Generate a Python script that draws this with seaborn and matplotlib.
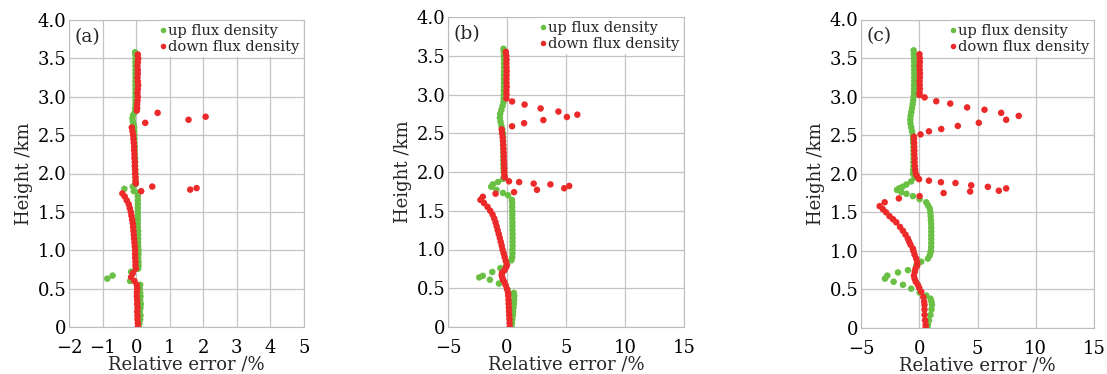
import matplotlib
matplotlib.use("Agg")
import matplotlib.pyplot as plt
import seaborn as sns
import pandas as pd

# ---------------- data ----------------
series_names = ["up flux density", "down flux density"]
panel_tags = ["(a)", "(b)", "(c)"]
y_ticks = [0, 0.5, 1.0, 1.5, 2.0, 2.5, 3.0, 3.5, 4.0]
y_tick_labels = ["0", "0.5", "1.0", "1.5", "2.0", "2.5", "3.0", "3.5", "4.0"]
x_ticks_a = [-2, -1, 0, 1, 2, 3, 4, 5]
x_ticks_bc = [-5, 0, 5, 10, 15]

# panel (a) up
a_up_h = [0.00, 0.05, 0.10, 0.15, 0.20, 0.25, 0.30, 0.35, 0.40, 0.45, 0.50, 0.55,
          0.60, 0.63, 0.67, 0.72,
          0.76, 0.80, 0.85, 0.90, 0.95, 1.00, 1.05, 1.10, 1.15, 1.20, 1.25, 1.30, 1.35, 1.40,
          1.45, 1.50, 1.55, 1.60, 1.65, 1.70, 1.75,
          1.77, 1.80, 1.83,
          1.86, 1.90, 1.95, 2.00, 2.05, 2.10, 2.15, 2.20, 2.25, 2.30, 2.35, 2.40, 2.45, 2.50,
          2.55, 2.60,
          2.64, 2.68, 2.72, 2.76,
          2.80, 2.85, 2.90, 2.95, 3.00, 3.05, 3.10, 3.15, 3.20, 3.25, 3.30, 3.35, 3.40, 3.45,
          3.50, 3.55, 3.58]
a_up_x = [0.08, 0.10, 0.12, 0.13, 0.11, 0.13, 0.14, 0.12, 0.13, 0.12, 0.11, 0.12,
          -0.18, -0.86, -0.70, -0.15,
          0.06, 0.07, 0.07, 0.06, 0.07, 0.07, 0.06, 0.06, 0.06, 0.06, 0.06, 0.05, 0.05, 0.05,
          0.05, 0.05, 0.05, 0.05, 0.05, 0.05, 0.05,
          -0.07, -0.35, -0.10,
          -0.02, -0.01, -0.02, -0.02, -0.03, -0.03, -0.03, -0.03, -0.04, -0.04, -0.04, -0.05,
          -0.05, -0.05, -0.06, -0.06,
          -0.08, -0.10, -0.11, -0.09,
          -0.04, -0.03, -0.02, -0.02, -0.02, -0.02, -0.02, -0.02, -0.02, -0.02, -0.02, -0.02,
          -0.02, -0.02, -0.02, -0.02, -0.03]

# panel (a) down
a_dn_h = [0.00, 0.05, 0.10, 0.15, 0.20, 0.25, 0.30, 0.35, 0.40, 0.45, 0.50, 0.55, 0.60,
          0.65, 0.70, 0.76,
          0.80, 0.85, 0.90, 0.95, 1.00, 1.05, 1.10, 1.15, 1.20, 1.25, 1.30, 1.35, 1.40, 1.45,
          1.50, 1.55, 1.60, 1.65, 1.70,
          1.74,
          1.77, 1.79, 1.81, 1.83,
          1.87, 1.90, 1.95, 2.00, 2.05, 2.10, 2.15, 2.20, 2.25, 2.30, 2.35, 2.40, 2.45, 2.50,
          2.55, 2.60,
          2.66, 2.70, 2.74, 2.79,
          2.82, 2.85, 2.90, 2.95, 3.00, 3.05, 3.10, 3.15, 3.20, 3.25, 3.30, 3.35, 3.40, 3.45,
          3.50, 3.55]
a_dn_x = [0.05, 0.05, 0.04, 0.04, 0.03, 0.04, 0.03, 0.03, 0.02, 0.02, 0.03, 0.02, -0.05,
          -0.15, -0.10, -0.01,
          -0.02, -0.02, -0.03, -0.03, -0.03, -0.04, -0.05, -0.06, -0.07, -0.08, -0.09, -0.10,
          -0.12, -0.14, -0.16, -0.19, -0.22, -0.28, -0.34,
          -0.41,
          0.15, 1.61, 1.80, 0.48,
          -0.01, -0.02, -0.02, -0.03, -0.03, -0.04, -0.04, -0.05, -0.05, -0.06, -0.06, -0.07,
          -0.08, -0.09, -0.11, -0.13,
          0.27, 1.56, 2.07, 0.64,
          0.02, 0.03, 0.03, 0.04, 0.05, 0.04, 0.05, 0.06, 0.05, 0.04, 0.05, 0.05, 0.04, 0.05,
          0.06, 0.05]

# panel (b) up
b_up_h = [0.00, 0.05, 0.10, 0.15, 0.20, 0.25, 0.30, 0.35, 0.40, 0.44,
          0.48, 0.56, 0.61, 0.64, 0.66, 0.71, 0.76,
          0.80, 0.86, 0.90, 0.95, 1.00, 1.05, 1.10, 1.15, 1.20, 1.25, 1.30, 1.35, 1.40, 1.45,
          1.50, 1.55, 1.60, 1.64,
          1.70, 1.73, 1.77, 1.81, 1.84, 1.87, 1.91,
          1.95, 2.00, 2.05, 2.10, 2.15, 2.20, 2.25, 2.30, 2.35, 2.40, 2.45, 2.50,
          2.55, 2.60, 2.65, 2.70, 2.75, 2.80, 2.85, 2.90,
          2.95, 3.00, 3.05, 3.10, 3.15, 3.20, 3.25, 3.30, 3.35, 3.40, 3.45, 3.50, 3.55, 3.59]
b_up_x = [0.40, 0.42, 0.45, 0.50, 0.52, 0.55, 0.58, 0.60, 0.62, 0.58,
          0.05, -0.68, -1.45, -2.35, -2.05, -1.25, -0.56,
          -0.05, 0.37, 0.44, 0.46, 0.46, 0.47, 0.47, 0.47, 0.47, 0.46, 0.46, 0.46, 0.45, 0.45,
          0.45, 0.44, 0.44, 0.42,
          0.09, -0.34, -0.90, -1.34, -1.20, -0.77, -0.34,
          -0.22, -0.28, -0.30, -0.30, -0.31, -0.31, -0.32, -0.32, -0.32, -0.33, -0.33, -0.34,
          -0.40, -0.48, -0.55, -0.60, -0.58, -0.48, -0.38, -0.30,
          -0.28, -0.27, -0.27, -0.26, -0.26, -0.26, -0.26, -0.25, -0.25, -0.25, -0.25, -0.26,
          -0.27, -0.30]

# panel (b) down
b_dn_h = [0.00, 0.05, 0.10, 0.15, 0.20, 0.25, 0.30, 0.35, 0.40, 0.44, 0.49, 0.54, 0.58,
          0.61, 0.64, 0.67, 0.70, 0.73, 0.77, 0.80,
          0.85, 0.90, 0.95, 1.00, 1.05, 1.10, 1.15, 1.20, 1.25, 1.30, 1.35, 1.40, 1.45, 1.50,
          1.55, 1.60, 1.64,
          1.68, 1.72, 1.74, 1.77, 1.79, 1.82, 1.84, 1.85, 1.87, 1.88,
          1.93, 1.95, 2.00, 2.05, 2.10, 2.15, 2.20, 2.25, 2.30, 2.35, 2.40, 2.45, 2.50, 2.55,
          2.59, 2.63, 2.67, 2.71, 2.74, 2.78, 2.82, 2.87, 2.91,
          2.95, 3.00, 3.05, 3.10, 3.15, 3.20, 3.25, 3.30, 3.35, 3.40, 3.45, 3.50, 3.55]
b_dn_x = [0.23, 0.22, 0.21, 0.19, 0.17, 0.16, 0.14, 0.13, 0.11, 0.09, 0.00, -0.11, -0.22,
          -0.34, -0.40, -0.45, -0.42, -0.22, -0.08, 0.00,
          -0.10, -0.20, -0.28, -0.38, -0.45, -0.53, -0.61, -0.70, -0.79, -0.88, -0.97, -1.08,
          -1.22, -1.42, -1.65, -1.95, -2.25,
          -2.05, -0.97, 0.60, 2.54, 4.85, 5.27, 3.68, 2.26, 1.03, 0.17,
          -0.20, -0.22, -0.23, -0.24, -0.25, -0.26, -0.27, -0.28, -0.30, -0.32, -0.34, -0.37,
          -0.42, -0.45,
          0.43, 1.45, 3.08, 5.08, 5.96, 4.36, 2.85, 1.49, 0.43,
          -0.05, -0.04, -0.05, -0.03, -0.04, -0.05, -0.04, -0.03, -0.04, -0.05, -0.04, -0.06,
          -0.10]

# panel (c) up
c_up_h = [0.00, 0.04, 0.10, 0.17, 0.24, 0.30, 0.34, 0.38, 0.42, 0.46, 0.51, 0.56, 0.60,
          0.64, 0.68, 0.72, 0.75, 0.81, 0.86, 0.90, 0.94, 0.98,
          1.00, 1.05, 1.10, 1.15, 1.20, 1.25, 1.30, 1.35, 1.40, 1.45, 1.50, 1.55,
          1.59, 1.63, 1.67, 1.71, 1.74, 1.76, 1.79, 1.81, 1.83, 1.86, 1.90, 1.95,
          2.00, 2.05, 2.10, 2.15, 2.20, 2.25, 2.30, 2.35, 2.40, 2.45, 2.50,
          2.55, 2.60, 2.65, 2.70, 2.75, 2.80, 2.85, 2.90, 2.95, 3.00,
          3.05, 3.10, 3.15, 3.20, 3.25, 3.30, 3.35, 3.40, 3.45, 3.50, 3.55, 3.60]
c_up_x = [0.70, 0.74, 0.83, 0.97, 1.05, 1.09, 1.05, 0.97, 0.60, 0.03, -0.69, -1.40, -2.20,
          -2.94, -2.74, -1.83, -0.97, -0.26, 0.17, 0.74, 0.90, 0.97,
          1.00, 1.02, 1.03, 1.03, 1.03, 1.03, 1.03, 1.02, 1.00, 0.98, 0.95, 0.90,
          0.75, 0.60, 0.03, -0.54, -1.10, -1.54, -1.91, -1.74, -1.45, -1.11, -0.70, -0.40,
          -0.54, -0.52, -0.50, -0.50, -0.49, -0.49, -0.50, -0.50, -0.52, -0.54, -0.55,
          -0.62, -0.69, -0.75, -0.77, -0.74, -0.68, -0.62, -0.57, -0.52, -0.48,
          -0.45, -0.44, -0.44, -0.43, -0.43, -0.43, -0.43, -0.44, -0.44, -0.45, -0.46, -0.48]

# panel (c) down
c_dn_h = [0.00, 0.04, 0.10, 0.17, 0.24, 0.30, 0.34, 0.40, 0.47, 0.52, 0.56, 0.60, 0.64,
          0.68, 0.73, 0.77, 0.81, 0.85, 0.90, 0.95, 1.00, 1.03, 1.08, 1.12, 1.16, 1.21, 1.26,
          1.31, 1.37, 1.41, 1.45, 1.50, 1.54, 1.58,
          1.63, 1.68, 1.71,
          1.75, 1.77, 1.78, 1.81, 1.83, 1.85, 1.88, 1.89, 1.91,
          1.93, 1.97, 2.00, 2.05, 2.10, 2.15, 2.20, 2.25, 2.30, 2.35, 2.40, 2.45, 2.48,
          2.51, 2.55, 2.58, 2.62, 2.66, 2.70, 2.75, 2.79, 2.83, 2.86, 2.91, 2.94, 2.99,
          3.02, 3.05, 3.10, 3.15, 3.20, 3.25, 3.30, 3.35, 3.40, 3.45, 3.50, 3.55]
c_dn_x = [0.55, 0.55, 0.50, 0.46, 0.45, 0.45, 0.42, 0.35, 0.17, 0.00, -0.12, -0.30, -0.40,
          -0.46, -0.38, -0.32, -0.17, -0.18, -0.26, -0.40, -0.50, -0.55, -0.75, -0.87, -0.98,
          -1.18, -1.40, -1.65, -1.97, -2.25, -2.55, -2.85, -3.12, -3.40,
          -2.97, -1.75, 0.03,
          2.09, 4.37, 6.83, 7.46, 5.89, 4.46, 3.11, 1.86, 0.83,
          -0.02, -0.20, -0.30, -0.35, -0.38, -0.40, -0.40, -0.42, -0.42, -0.43, -0.44, -0.45,
          -0.46,
          0.11, 0.83, 1.89, 3.31, 5.11, 7.46, 8.54, 7.03, 5.60, 4.11, 2.66, 1.46, 0.46,
          0.02, 0.03, 0.05, 0.04, 0.03, 0.05, 0.06, 0.04, 0.03, 0.05, 0.04, 0.02]

# ---------------- styling ----------------
sns.set_style("white")
plt.rcParams['font.family'] = ['DejaVu Serif', 'DejaVu Sans']
plt.rcParams['axes.unicode_minus'] = True

GREEN = "#6abf45"
RED = "#ec2a2a"
palette = {series_names[0]: GREEN, series_names[1]: RED}

W, H = 1107, 374
fig = plt.figure(figsize=(W / 100, H / 100), dpi=100)

# axes rectangles in pixels: left, right, top, bottom
rects_px = [(69, 304, 20, 327), (448, 684, 17, 327), (861, 1094, 19.5, 328)]
panel_data = [
    (a_up_h, a_up_x, a_dn_h, a_dn_x, (-2, 5), x_ticks_a),
    (b_up_h, b_up_x, b_dn_h, b_dn_x, (-5, 15), x_ticks_bc),
    (c_up_h, c_up_x, c_dn_h, c_dn_x, (-5, 15), x_ticks_bc),
]

for i, ((l, r, t, b), (uh, ux, dh, dx, xlim, xt)) in enumerate(zip(rects_px, panel_data)):
    ax = fig.add_axes([l / W, (H - b) / H, (r - l) / W, (b - t) / H])
    df = pd.concat([
        pd.DataFrame({"h": uh, "x": ux, "series": series_names[0]}),
        pd.DataFrame({"h": dh, "x": dx, "series": series_names[1]}),
    ], ignore_index=True)
    sns.scatterplot(data=df, x="x", y="h", hue="series", palette=palette,
                    s=22, linewidth=0, edgecolor="none", ax=ax, zorder=3)
    ax.set_xlim(*xlim)
    ax.set_ylim(0, 4)
    ax.set_xticks(xt)
    ax.set_yticks(y_ticks)
    ax.set_yticklabels(y_tick_labels)
    ax.grid(True, color="#c4c4c4", linewidth=0.9)
    ax.set_axisbelow(True)
    for sp in ax.spines.values():
        sp.set_color("#bdbdbd")
        sp.set_linewidth(0.8)
    ax.tick_params(axis="both", length=0, labelsize=13, colors="black")
    ax.tick_params(axis="x", pad=8.5)
    ax.tick_params(axis="y", pad=2)
    ax.set_xlabel("Relative error /%", fontsize=13, labelpad=-1)
    ax.set_ylabel("Height /km", fontsize=13, labelpad=3)
    ax.text(0.025, 0.945, panel_tags[i], transform=ax.transAxes, fontsize=13.5,
            ha="left", va="center")
    handles, labels = ax.get_legend_handles_labels()
    leg = ax.legend(handles, labels, loc="upper right", fontsize=10.5, frameon=True,
                    facecolor="white", edgecolor="none", framealpha=1,
                    handletextpad=0.05, handlelength=0.6, borderaxespad=0.1,
                    borderpad=0.2, labelspacing=0.12, markerscale=0.85)
    leg.set_zorder(5)

fig.savefig("out.png", dpi=100)
